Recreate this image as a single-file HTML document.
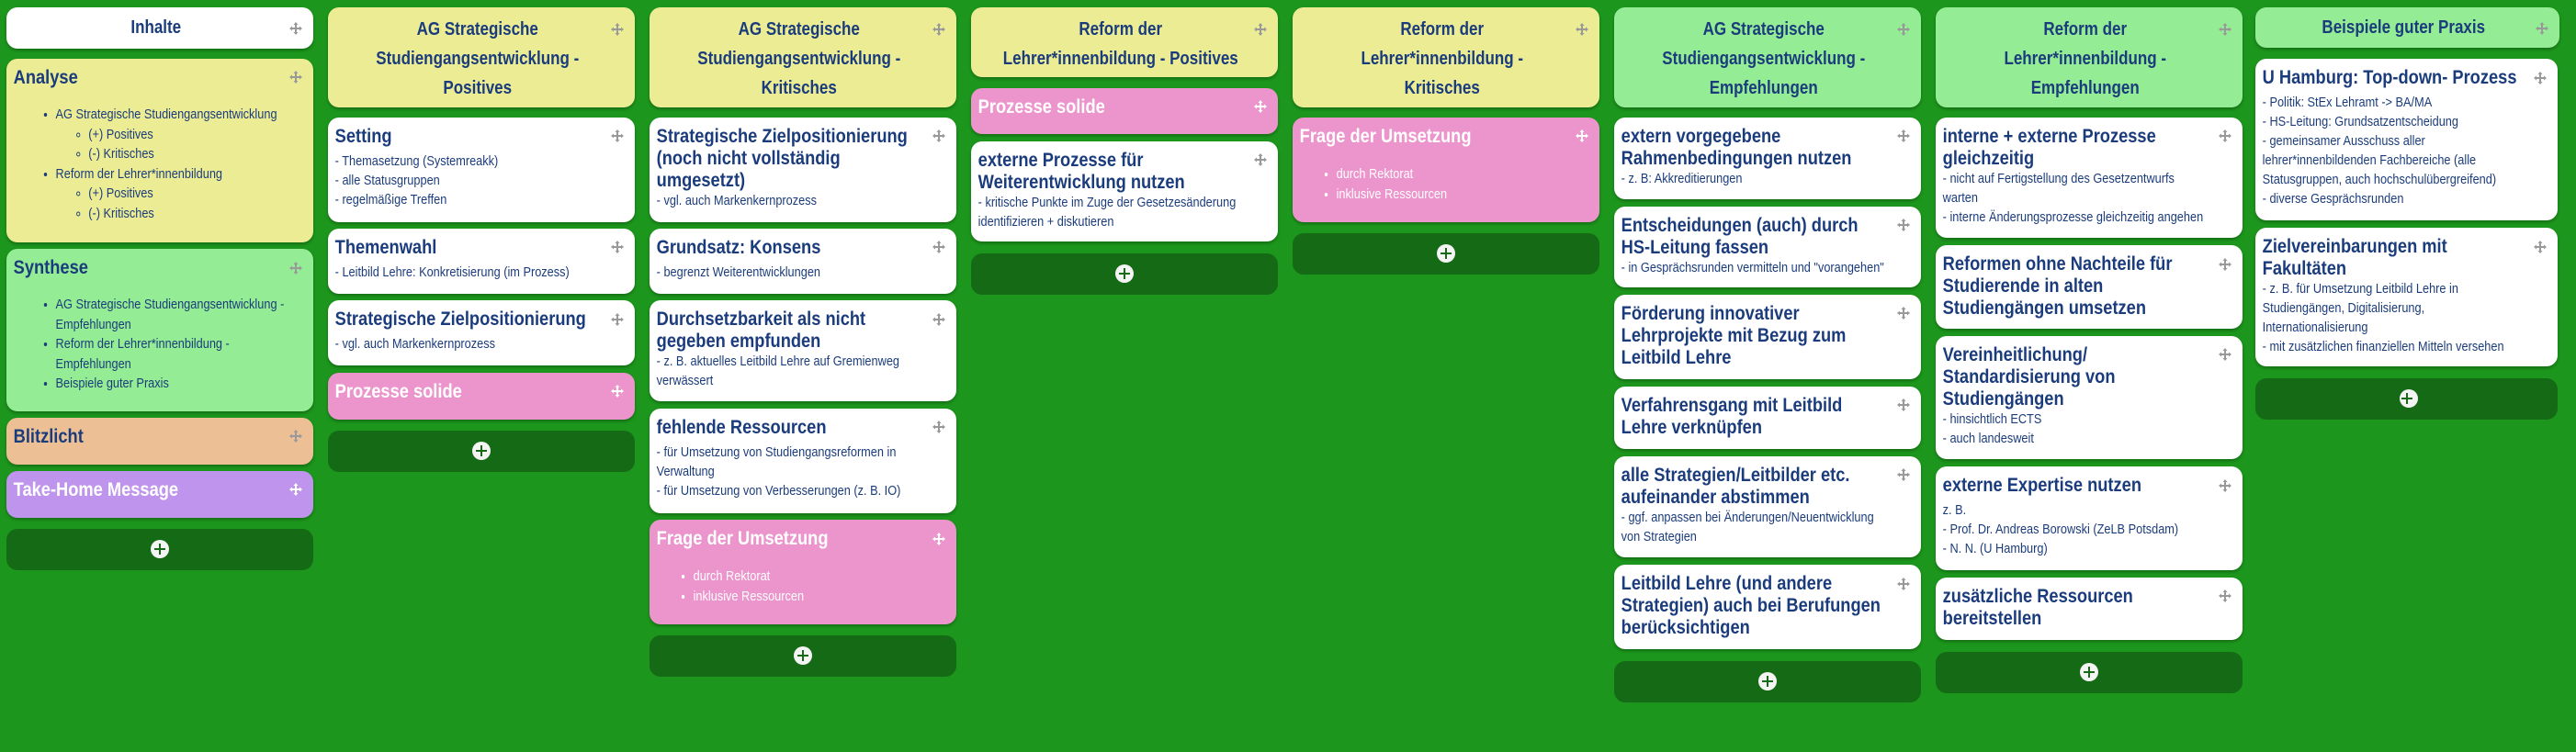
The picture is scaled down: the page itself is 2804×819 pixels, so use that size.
<!DOCTYPE html>
<html><head><meta charset="utf-8">
<style>
html,body{margin:0;padding:0}
body{width:2804px;height:819px;background:#1c961c;position:relative;overflow:hidden;font-family:"Liberation Sans",sans-serif}
.c{position:absolute;width:334px;border-radius:12px;box-shadow:0 2px 3px rgba(0,0,0,.28);overflow:hidden;background:#fff}
.y{background:#ecec94}.gr{background:#94ec94}.p{background:#ec94cc}.o{background:#ecbf94}.v{background:#bf94ec}
.in{position:absolute;left:0;top:0;width:117.65%;transform:scaleX(.85);transform-origin:0 0;padding:8px 9px;box-sizing:border-box;color:#1b3c7c}
.p .in,.v .in{color:#fff}
.h{text-align:center;font-weight:bold;font-size:20px;line-height:32px;white-space:nowrap;padding-right:10px}
.t{font-weight:bold;font-size:21.5px;line-height:24px;white-space:nowrap}
.b{font-size:15px;line-height:21px;white-space:nowrap}
.g{margin-top:5px}
ul{margin:0;padding:0 0 0 54px;font-size:15px;line-height:21.5px;white-space:nowrap}
ul ul{padding-left:42px;list-style-type:circle}
.ic{position:absolute;right:12px;width:14px;height:14px}
.add{position:absolute;width:334px;height:45px;border-radius:12px;background:#156b15}
.add::after{content:"";position:absolute;left:157px;top:12px;width:20px;height:20px;border-radius:50%;background:#f4f4f4}
.add i{position:absolute;left:166px;top:16px;width:2px;height:12px;background:#156b15;z-index:2}
.add b{position:absolute;left:161px;top:21px;width:12px;height:2px;background:#156b15;z-index:2}
</style></head><body>
<svg width="0" height="0" style="position:absolute"><defs><symbol id="mv" viewBox="0 0 14 14"><path d="M7 0L9.5 3H8v3h3V4.5L14 7l-3 2.5V8H8v3h1.5L7 14l-2.5-3H6V8H3v1.5L0 7l3-2.5V6h3V3H4.5z"/></symbol></defs></svg>

<!-- Column 1 -->
<div class="c" style="left:7px;top:8px;height:45px"><div class="in" style="padding-top:6px"><div class="h">Inhalte</div></div><svg class="ic" style="top:16px;fill:#999"><use href="#mv"/></svg></div>
<div class="c y" style="left:7px;top:64px;height:200px"><div class="in"><div class="t">Analyse</div>
<ul style="margin-top:18px"><li>AG Strategische Studiengangsentwicklung<ul><li>(+) Positives</li><li>(-) Kritisches</li></ul></li><li>Reform der Lehrer*innenbildung<ul><li>(+) Positives</li><li>(-) Kritisches</li></ul></li></ul></div><svg class="ic" style="top:13px;fill:#999"><use href="#mv"/></svg></div>
<div class="c gr" style="left:7px;top:271px;height:177px"><div class="in"><div class="t">Synthese</div>
<ul style="margin-top:18px"><li>AG Strategische Studiengangsentwicklung -<br>Empfehlungen</li><li>Reform der Lehrer*innenbildung -<br>Empfehlungen</li><li>Beispiele guter Praxis</li></ul></div><svg class="ic" style="top:14px;fill:#999"><use href="#mv"/></svg></div>
<div class="c o" style="left:7px;top:455px;height:51px"><div class="in"><div class="t">Blitzlicht</div></div><svg class="ic" style="top:13px;fill:#999"><use href="#mv"/></svg></div>
<div class="c v" style="left:7px;top:513px;height:51px"><div class="in"><div class="t">Take-Home Message</div></div><svg class="ic" style="top:13px;fill:#fff"><use href="#mv"/></svg></div>
<div class="add" style="left:7px;top:576px"><i></i><b></b></div>

<!-- Column 2 -->
<div class="c y" style="left:357px;top:8px;height:109px"><div class="in"><div class="h">AG Strategische<br>Studiengangsentwicklung -<br>Positives</div></div><svg class="ic" style="top:17px;fill:#999"><use href="#mv"/></svg></div>
<div class="c" style="left:357px;top:128px;height:114px"><div class="in"><div class="t">Setting</div><div class="b g">- Themasetzung (Systemreakk)<br>- alle Statusgruppen<br>- regelmäßige Treffen</div></div><svg class="ic" style="top:13px;fill:#999"><use href="#mv"/></svg></div>
<div class="c" style="left:357px;top:249px;height:71px"><div class="in"><div class="t">Themenwahl</div><div class="b g">- Leitbild Lehre: Konkretisierung (im Prozess)</div></div><svg class="ic" style="top:13px;fill:#999"><use href="#mv"/></svg></div>
<div class="c" style="left:357px;top:327px;height:71px"><div class="in"><div class="t">Strategische Zielpositionierung</div><div class="b g">- vgl. auch Markenkernprozess</div></div><svg class="ic" style="top:14px;fill:#999"><use href="#mv"/></svg></div>
<div class="c p" style="left:357px;top:406px;height:51px"><div class="in"><div class="t">Prozesse solide</div></div><svg class="ic" style="top:13px;fill:#fff"><use href="#mv"/></svg></div>
<div class="add" style="left:357px;top:469px"><i></i><b></b></div>

<!-- Column 3 -->
<div class="c y" style="left:707px;top:8px;height:109px"><div class="in"><div class="h">AG Strategische<br>Studiengangsentwicklung -<br>Kritisches</div></div><svg class="ic" style="top:17px;fill:#999"><use href="#mv"/></svg></div>
<div class="c" style="left:707px;top:128px;height:114px"><div class="in"><div class="t">Strategische Zielpositionierung<br>(noch nicht vollständig<br>umgesetzt)</div><div class="b">- vgl. auch Markenkernprozess</div></div><svg class="ic" style="top:13px;fill:#999"><use href="#mv"/></svg></div>
<div class="c" style="left:707px;top:249px;height:71px"><div class="in"><div class="t">Grundsatz: Konsens</div><div class="b g">- begrenzt Weiterentwicklungen</div></div><svg class="ic" style="top:13px;fill:#999"><use href="#mv"/></svg></div>
<div class="c" style="left:707px;top:327px;height:110px"><div class="in"><div class="t">Durchsetzbarkeit als nicht<br>gegeben empfunden</div><div class="b">- z. B. aktuelles Leitbild Lehre auf Gremienweg<br>verwässert</div></div><svg class="ic" style="top:14px;fill:#999"><use href="#mv"/></svg></div>
<div class="c" style="left:707px;top:445px;height:114px"><div class="in"><div class="t">fehlende Ressourcen</div><div class="b g">- für Umsetzung von Studiengangsreformen in<br>Verwaltung<br>- für Umsetzung von Verbesserungen (z. B. IO)</div></div><svg class="ic" style="top:13px;fill:#999"><use href="#mv"/></svg></div>
<div class="c p" style="left:707px;top:566px;height:114px"><div class="in"><div class="t">Frage der Umsetzung</div><ul style="margin-top:19px;padding-left:47px"><li>durch Rektorat</li><li>inklusive Ressourcen</li></ul></div><svg class="ic" style="top:14px;fill:#fff"><use href="#mv"/></svg></div>
<div class="add" style="left:707px;top:692px"><i></i><b></b></div>

<!-- Column 4 -->
<div class="c y" style="left:1057px;top:8px;height:76px"><div class="in"><div class="h">Reform der<br>Lehrer*innenbildung - Positives</div></div><svg class="ic" style="top:17px;fill:#999"><use href="#mv"/></svg></div>
<div class="c p" style="left:1057px;top:96px;height:50px"><div class="in"><div class="t">Prozesse solide</div></div><svg class="ic" style="top:13px;fill:#fff"><use href="#mv"/></svg></div>
<div class="c" style="left:1057px;top:154px;height:109px"><div class="in"><div class="t">externe Prozesse für<br>Weiterentwicklung nutzen</div><div class="b">- kritische Punkte im Zuge der Gesetzesänderung<br>identifizieren + diskutieren</div></div><svg class="ic" style="top:13px;fill:#999"><use href="#mv"/></svg></div>
<div class="add" style="left:1057px;top:276px"><i></i><b></b></div>

<!-- Column 5 -->
<div class="c y" style="left:1407px;top:8px;height:109px"><div class="in"><div class="h">Reform der<br>Lehrer*innenbildung -<br>Kritisches</div></div><svg class="ic" style="top:17px;fill:#999"><use href="#mv"/></svg></div>
<div class="c p" style="left:1407px;top:128px;height:114px"><div class="in"><div class="t">Frage der Umsetzung</div><ul style="margin-top:19px;padding-left:47px"><li>durch Rektorat</li><li>inklusive Ressourcen</li></ul></div><svg class="ic" style="top:13px;fill:#fff"><use href="#mv"/></svg></div>
<div class="add" style="left:1407px;top:254px"><i></i><b></b></div>

<!-- Column 6 -->
<div class="c gr" style="left:1757px;top:8px;height:109px"><div class="in"><div class="h">AG Strategische<br>Studiengangsentwicklung -<br>Empfehlungen</div></div><svg class="ic" style="top:17px;fill:#999"><use href="#mv"/></svg></div>
<div class="c" style="left:1757px;top:128px;height:89px"><div class="in"><div class="t">extern vorgegebene<br>Rahmenbedingungen nutzen</div><div class="b">- z. B: Akkreditierungen</div></div><svg class="ic" style="top:13px;fill:#999"><use href="#mv"/></svg></div>
<div class="c" style="left:1757px;top:225px;height:88px"><div class="in"><div class="t">Entscheidungen (auch) durch<br>HS-Leitung fassen</div><div class="b">- in Gesprächsrunden vermitteln und "vorangehen"</div></div><svg class="ic" style="top:13px;fill:#999"><use href="#mv"/></svg></div>
<div class="c" style="left:1757px;top:321px;height:92px"><div class="in"><div class="t">Förderung innovativer<br>Lehrprojekte mit Bezug zum<br>Leitbild Lehre</div></div><svg class="ic" style="top:13px;fill:#999"><use href="#mv"/></svg></div>
<div class="c" style="left:1757px;top:421px;height:68px"><div class="in"><div class="t">Verfahrensgang mit Leitbild<br>Lehre verknüpfen</div></div><svg class="ic" style="top:13px;fill:#999"><use href="#mv"/></svg></div>
<div class="c" style="left:1757px;top:497px;height:110px"><div class="in"><div class="t">alle Strategien/Leitbilder etc.<br>aufeinander abstimmen</div><div class="b">- ggf. anpassen bei Änderungen/Neuentwicklung<br>von Strategien</div></div><svg class="ic" style="top:13px;fill:#999"><use href="#mv"/></svg></div>
<div class="c" style="left:1757px;top:615px;height:92px"><div class="in"><div class="t">Leitbild Lehre (und andere<br>Strategien) auch bei Berufungen<br>berücksichtigen</div></div><svg class="ic" style="top:14px;fill:#999"><use href="#mv"/></svg></div>
<div class="add" style="left:1757px;top:720px"><i></i><b></b></div>

<!-- Column 7 -->
<div class="c gr" style="left:2107px;top:8px;height:109px"><div class="in"><div class="h">Reform der<br>Lehrer*innenbildung -<br>Empfehlungen</div></div><svg class="ic" style="top:17px;fill:#999"><use href="#mv"/></svg></div>
<div class="c" style="left:2107px;top:128px;height:131px"><div class="in"><div class="t">interne + externe Prozesse<br>gleichzeitig</div><div class="b">- nicht auf Fertigstellung des Gesetzentwurfs<br>warten<br>- interne Änderungsprozesse gleichzeitig angehen</div></div><svg class="ic" style="top:13px;fill:#999"><use href="#mv"/></svg></div>
<div class="c" style="left:2107px;top:267px;height:91px"><div class="in"><div class="t">Reformen ohne Nachteile für<br>Studierende in alten<br>Studiengängen umsetzen</div></div><svg class="ic" style="top:14px;fill:#999"><use href="#mv"/></svg></div>
<div class="c" style="left:2107px;top:366px;height:134px"><div class="in"><div class="t">Vereinheitlichung/<br>Standardisierung von<br>Studiengängen</div><div class="b">- hinsichtlich ECTS<br>- auch landesweit</div></div><svg class="ic" style="top:13px;fill:#999"><use href="#mv"/></svg></div>
<div class="c" style="left:2107px;top:508px;height:113px"><div class="in"><div class="t">externe Expertise nutzen</div><div class="b g">z. B.<br>- Prof. Dr. Andreas Borowski (ZeLB Potsdam)<br>- N. N. (U Hamburg)</div></div><svg class="ic" style="top:14px;fill:#999"><use href="#mv"/></svg></div>
<div class="c" style="left:2107px;top:629px;height:68px"><div class="in"><div class="t">zusätzliche Ressourcen<br>bereitstellen</div></div><svg class="ic" style="top:13px;fill:#999"><use href="#mv"/></svg></div>
<div class="add" style="left:2107px;top:710px"><i></i><b></b></div>

<!-- Column 8 -->
<div class="c gr" style="left:2455px;top:8px;height:44px;width:331px"><div class="in" style="padding-top:6px"><div class="h">Beispiele guter Praxis</div></div><svg class="ic" style="top:16px;fill:#999"><use href="#mv"/></svg></div>
<div class="c" style="left:2455px;top:64px;height:176px;width:329px"><div class="in"><div class="t">U Hamburg: Top-down- Prozess</div><div class="b g">- Politik: StEx Lehramt -&gt; BA/MA<br>- HS-Leitung: Grundsatzentscheidung<br>- gemeinsamer Ausschuss aller<br>lehrer*innenbildenden Fachbereiche (alle<br>Statusgruppen, auch hochschulübergreifend)<br>- diverse Gesprächsrunden</div></div><svg class="ic" style="top:14px;fill:#999"><use href="#mv"/></svg></div>
<div class="c" style="left:2455px;top:248px;height:151px;width:329px"><div class="in"><div class="t">Zielvereinbarungen mit<br>Fakultäten</div><div class="b">- z. B. für Umsetzung Leitbild Lehre in<br>Studiengängen, Digitalisierung,<br>Internationalisierung<br>- mit zusätzlichen finanziellen Mitteln versehen</div></div><svg class="ic" style="top:14px;fill:#999"><use href="#mv"/></svg></div>
<div class="add" style="left:2455px;top:412px;width:329px"><i style="left:164px"></i><b style="left:159px"></b></div>
</body></html>
